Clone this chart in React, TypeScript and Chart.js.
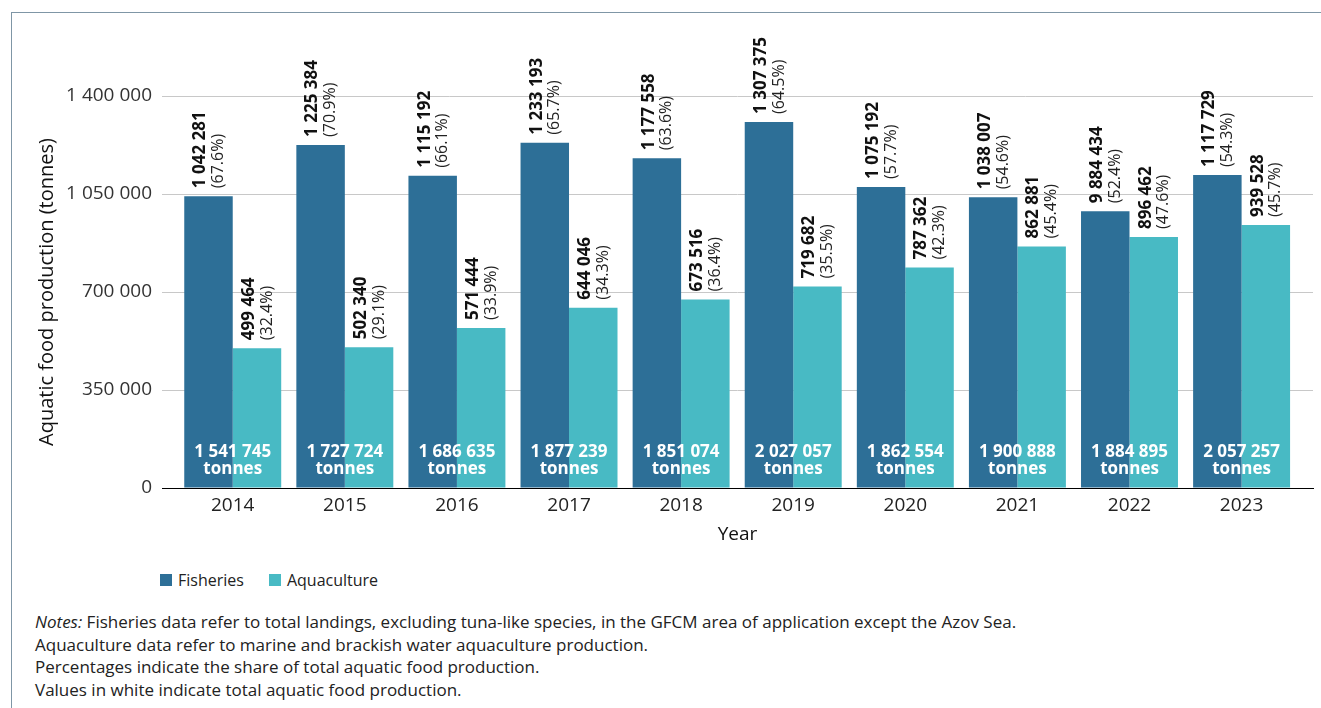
import React, { useEffect, useRef } from "react";
import { Chart, registerables } from "chart.js";

Chart.register(...registerables);

const years = ["2014", "2015", "2016", "2017", "2018", "2019", "2020", "2021", "2022", "2023"];
const fisheries = [1042281, 1225384, 1115192, 1233193, 1177558, 1307375, 1075192, 1038007, 988434, 1117729];
const aquaculture = [499464, 502340, 571444, 644046, 673516, 719682, 787362, 862881, 896462, 939528];
const fisheriesShare = [67.6, 70.9, 66.1, 65.7, 63.6, 64.5, 57.7, 54.6, 52.4, 54.3];
const aquacultureShare = [32.4, 29.1, 33.9, 34.3, 36.4, 35.5, 42.3, 45.4, 47.6, 45.7];
const totals = [1541745, 1727724, 1686635, 1877239, 1851074, 2027057, 1862554, 1900888, 1884895, 2057257];
// value labels as printed in the source (2022 fisheries label printed as "9 884 434")
const fisheriesLabels = ["1 042 281", "1 225 384", "1 115 192", "1 233 193", "1 177 558", "1 307 375", "1 075 192", "1 038 007", "9 884 434", "1 117 729"];
const seriesNames = ["Fisheries", "Aquaculture"];
const yMax = 1400000;
const yStep = 350000;

const FISH = "#2D6F97";
const AQUA = "#48BAC4";
const FONT = "'Open Sans', 'Noto Sans', sans-serif";

const fmt = (v: number) => String(Math.round(v)).replace(/\B(?=(\d{3})+(?!\d))/g, " ");

const labelPlugin = {
  id: "barLabels",
  afterDatasetsDraw(chart: any) {
    const ctx = chart.ctx;
    const shares = [fisheriesShare, aquacultureShare];
    const texts = [fisheriesLabels, aquaculture.map(fmt)];
    ctx.save();
    chart.data.datasets.forEach((_ds: any, di: number) => {
      const meta = chart.getDatasetMeta(di);
      meta.data.forEach((bar: any, i: number) => {
        const { x, y } = bar.getProps(["x", "y"], true);
        ctx.save();
        ctx.translate(x, y - 8);
        ctx.rotate(-Math.PI / 2);
        ctx.textAlign = "left";
        ctx.textBaseline = "middle";
        ctx.fillStyle = "#111";
        ctx.font = `bold 17px ${FONT}`;
        ctx.fillText(texts[di][i], 0, -8);
        ctx.fillStyle = "#222";
        ctx.font = `16px ${FONT}`;
        ctx.fillText(`(${shares[di][i].toFixed(1)}%)`, 0, 10);
        ctx.restore();
      });
    });
    const xs = chart.scales.x;
    const ys = chart.scales.y;
    const base = ys.getPixelForValue(0);
    ctx.fillStyle = "#fff";
    ctx.font = `bold 17px ${FONT}`;
    ctx.textAlign = "center";
    ctx.textBaseline = "middle";
    totals.forEach((t, i) => {
      const cx = xs.getPixelForValue(i);
      ctx.fillText(fmt(t), cx, base - 36);
      ctx.fillText("tonnes", cx, base - 19);
    });
    ctx.restore();
  },
};

function ChartCanvas() {
  const ref = useRef<HTMLCanvasElement | null>(null);
  useEffect(() => {
    if (!ref.current) return;
    const chart = new Chart(ref.current, {
      type: "bar",
      data: {
        datasets: [
          {
            label: seriesNames[0],
            data: fisheries.map((v, i) => ({ x: i, y: v })),
            backgroundColor: FISH,
            borderWidth: 0,
          },
          {
            label: seriesNames[1],
            data: aquaculture.map((v, i) => ({ x: i, y: v })),
            backgroundColor: AQUA,
            borderWidth: 0,
          },
        ],
      },
      options: {
        responsive: false,
        animation: false,
        devicePixelRatio: 1,
        layout: { padding: { left: 31, right: 8, top: 96, bottom: 12 } },
        datasets: { bar: { barPercentage: 1, categoryPercentage: 0.865 } },
        plugins: { legend: { display: false }, tooltip: { enabled: false }, title: { display: false } },
        scales: {
          x: {
            type: "linear",
            offset: false,
            min: -0.631,
            max: 9.637,
            afterBuildTicks: (scale: any) => {
              scale.ticks = years.map((_, i) => ({ value: i }));
            },
            afterFit: (scale: any) => {
              scale.height = 60;
            },
            ticks: {
              autoSkip: false,
              maxRotation: 0,
              padding: 6,
              color: "#222",
              font: { family: FONT, size: 19 },
              callback: (_v: any, idx: number) => years[idx] ?? "",
            },
            grid: { display: false, drawTicks: false },
            border: { display: true, color: "#000", width: 1 },
            title: {
              display: true,
              text: "Year",
              color: "#111",
              font: { family: FONT, size: 19 },
              padding: { top: 0, bottom: 2 },
            },
          },
          y: {
            min: 0,
            max: yMax,
            afterFit: (scale: any) => {
              scale.width = 131;
            },
            ticks: {
              stepSize: yStep,
              padding: 10,
              color: "#333",
              font: { family: FONT, size: 19 },
              callback: (v: any) => fmt(Number(v)),
            },
            grid: {
              drawTicks: false,
              color: (c: any) => (c.tick && c.tick.value === 0 ? "#000" : "#c8c8c8"),
              lineWidth: 1,
            },
            border: { display: false },
            title: {
              display: true,
              text: "Aquatic food production (tonnes)",
              color: "#111",
              font: { family: FONT, size: 20 },
              padding: { top: 4, bottom: 4 },
            },
          },
        },
      },
      plugins: [labelPlugin],
    } as any);
    return () => chart.destroy();
  }, []);
  return (
    <canvas
      ref={ref}
      width={1321}
      height={560}
      style={{ position: "absolute", left: 0, top: 0, width: 1321, height: 560 }}
    />
  );
}

export default function App() {
  const sq = (c: string) => ({ display: "inline-block", width: 12, height: 12, background: c });
  return (
    <div
      style={{
        position: "absolute",
        left: 0,
        top: 0,
        width: 1321,
        height: 708,
        background: "#fff",
        overflow: "hidden",
        fontFamily: FONT,
      }}
    >
      <ChartCanvas />
      <div style={{ position: "absolute", left: 11, top: 12, width: 1310, height: 1, background: "#7f96a6" }} />
      <div style={{ position: "absolute", left: 11, top: 12, width: 1, height: 696, background: "#7f96a6" }} />
      <div
        style={{
          position: "absolute",
          left: 160,
          top: 569,
          display: "flex",
          alignItems: "center",
          fontSize: 16,
          color: "#222",
          lineHeight: "22px",
        }}
      >
        <span style={sq(FISH)} />
        <span style={{ marginLeft: 6 }}>{seriesNames[0]}</span>
        <span style={{ ...sq(AQUA), marginLeft: 25 }} />
        <span style={{ marginLeft: 6 }}>{seriesNames[1]}</span>
      </div>
      <div
        style={{
          position: "absolute",
          left: 35,
          top: 611,
          fontSize: 17,
          lineHeight: "22.5px",
          color: "#222",
          whiteSpace: "nowrap",
        }}
      >
        <div>
          <i>Notes:</i> Fisheries data refer to total landings, excluding tuna-like species, in the GFCM area of application except the Azov Sea.
        </div>
        <div>Aquaculture data refer to marine and brackish water aquaculture production.</div>
        <div>Percentages indicate the share of total aquatic food production.</div>
        <div>Values in white indicate total aquatic food production.</div>
      </div>
    </div>
  );
}
